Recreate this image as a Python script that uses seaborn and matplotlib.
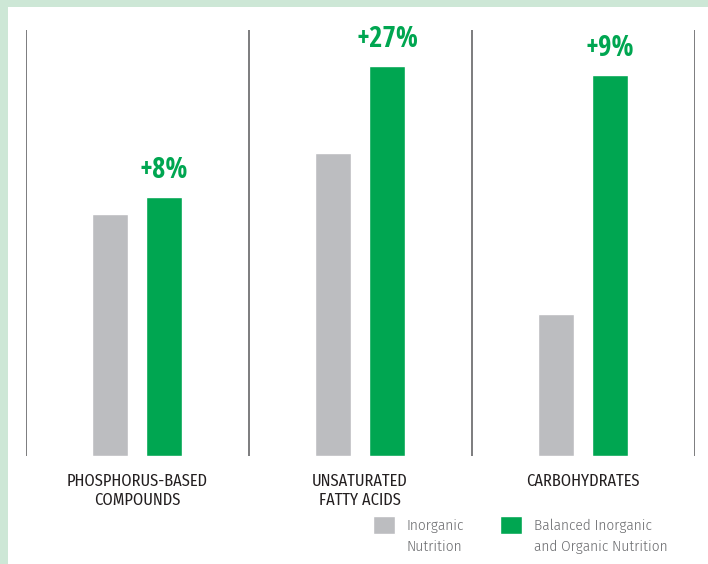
import matplotlib
matplotlib.use("Agg")
import matplotlib.pyplot as plt
from matplotlib import font_manager as fm
from matplotlib.patches import Rectangle, Patch
from matplotlib.legend_handler import HandlerPatch
import seaborn as sns
import pandas as pd

# ---- data ----
categories = ["PHOSPHORUS-BASED\nCOMPOUNDS", "UNSATURATED\nFATTY ACIDS", "CARBOHYDRATES"]
series = ["Inorganic\nNutrition", "Balanced Inorganic\nand Organic Nutrition"]
inorganic = [242, 303, 142]
balanced = [259, 390, 381]
increase_labels = ["+8%", "+27%", "+9%"]

GREY = "#bcbdc0"
GREEN = "#00a651"

# ---- fonts: choose a condensed family that has the needed weight ----
weights = {}
for f in fm.fontManager.ttflist:
    w = f.weight if isinstance(f.weight, int) else fm.weight_dict.get(f.weight, 400)
    if f.style == "normal":
        weights.setdefault(f.name, set()).add(w)

prefs = ["Open Sans Condensed", "Fira Sans Condensed", "IBM Plex Sans Condensed",
         "Encode Sans Condensed", "Asap Condensed", "Roboto Condensed",
         "Barlow Condensed", "Saira SemiCondensed", "Archivo Narrow"]

def pick(target, tol=60):
    for fam in prefs:
        ws = weights.get(fam, set())
        if any(abs(w - target) <= tol for w in ws):
            best = min(ws, key=lambda w: abs(w - target))
            return fam, best
    return "DejaVu Sans", 400

reg_fam, reg_w = pick(400)
light_fam, light_w = pick(300)
bold_fam, bold_w = pick(700)

df = pd.DataFrame({
    "category": categories * 2,
    "series": [series[0]] * 3 + [series[1]] * 3,
    "value": inorganic + balanced,
})

sns.set_theme(style="white")
plt.rcParams["font.family"] = [reg_fam, "DejaVu Sans"]

W, H = 708, 564
fig = plt.figure(figsize=(W / 100, H / 100), dpi=100)
fig.patch.set_facecolor("white")
# light green frame on left and top
fig.patches.append(Rectangle((0, 0), 8 / W, 1, transform=fig.transFigure,
                             facecolor="#cde7d6", edgecolor="none", zorder=0))
fig.patches.append(Rectangle((0, 1 - 7 / H), 1, 7 / H, transform=fig.transFigure,
                             facecolor="#cde7d6", edgecolor="none", zorder=0))

ax = fig.add_axes([25.5 / W, 108 / H, 669 / W, 426 / H])
ax.set_facecolor("none")

sns.barplot(data=df, x="category", y="value", hue="series", order=categories,
            hue_order=series, palette=[GREY, GREEN], width=0.484, gap=0.333,
            saturation=1, ax=ax, legend=True)

ax.set_xlim(-0.5, 2.5)
ax.set_ylim(0, 426)
for s in ax.spines.values():
    s.set_visible(False)
ax.set_yticks([])
ax.set_xlabel("")
ax.set_ylabel("")
ax.tick_params(axis="x", length=0, pad=12.5)
for t in ax.get_xticklabels():
    t.set_fontfamily([reg_fam, "DejaVu Sans"])
    t.set_fontweight(reg_w)
    t.set_fontsize(11.8)
    t.set_color("#231f20")
    t.set_linespacing(1.2)

for xv in [-0.5, 0.5, 1.5, 2.5]:
    ax.axvline(xv, ymin=0, ymax=1, color="#58595b", lw=1.1)

# percentage labels above green bars
green_container = ax.containers[1]
for bar, lab in zip(green_container, increase_labels):
    ax.annotate(lab, (bar.get_x() + bar.get_width() / 2, bar.get_height()),
                xytext=(0, 13.5), textcoords="offset points", ha="center",
                va="baseline", fontsize=21, fontweight=bold_w, color=GREEN,
                fontfamily=[bold_fam, "DejaVu Sans"], annotation_clip=False)

def raised_square(legend, orig_handle, xdescent, ydescent, width, height, fontsize):
    return Rectangle((-xdescent, -ydescent + 9), width, height)

sns.move_legend(ax, "upper left", bbox_to_anchor=(373 / W, 1 - 519 / H),
                bbox_transform=fig.transFigure, ncol=2, frameon=False, title=None,
                handlelength=1.45, handleheight=1.45, handletextpad=0.75,
                columnspacing=2.35, borderpad=0, borderaxespad=0,
                handler_map={Patch: HandlerPatch(patch_func=raised_square)},
                prop={"family": [light_fam, "DejaVu Sans"], "weight": light_w,
                      "size": 11})
for t in ax.get_legend().get_texts():
    t.set_color("#6d6e71")
    t.set_linespacing(1.6)

fig.savefig("out.png", dpi=100)
